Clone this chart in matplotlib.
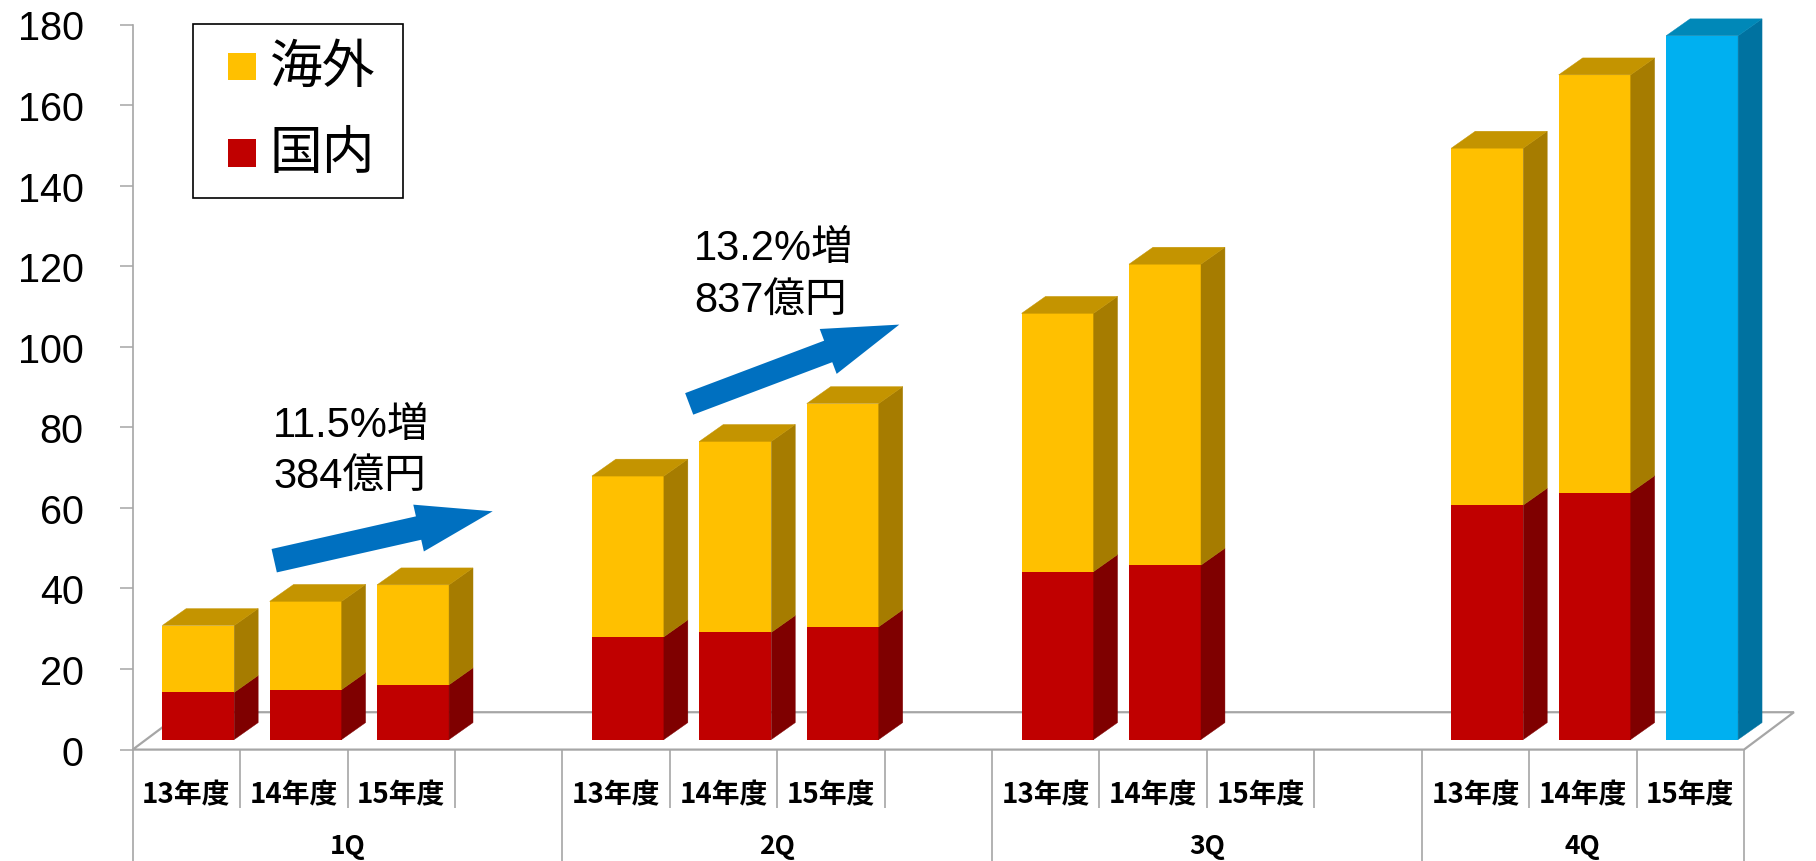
"""Cumulative quarterly sales by fiscal year, domestic vs overseas (Excel-style 3D stacked columns)."""

import matplotlib

matplotlib.use("Agg")  # no display
import matplotlib.pyplot as plt  # noqa: E402
import numpy as np  # noqa: E402
from matplotlib.patches import FancyArrow, Polygon, Rectangle  # noqa: E402
from matplotlib.transforms import blended_transform_factory  # noqa: E402

plt.rcParams["font.family"] = ["Liberation Sans", "Noto Sans CJK JP"]

# --- data (units of 100億円) ---
quarters = ["1Q", "2Q", "3Q", "4Q"]
years = ["13年度", "14年度", "15年度"]
domestic = [
    [11.7, 12.4, 13.6],
    [25.5, 26.6, 28.0],
    [41.7, 43.3, np.nan],
    [58.2, 61.3, np.nan],
]
overseas = [
    [16.6, 21.9, 24.8],
    [39.9, 47.4, 55.4],
    [64.1, 74.7, np.nan],
    [88.6, 103.7, np.nan],
]
forecast_4q_15 = 174.7  # 4Q 15年度, single blue column
yticks = list(range(0, 181, 20))
legend_labels = ["海外", "国内"]
notes = [("11.5%増", "384億円"), ("13.2%増", "837億円")]

# front, side, top shades
YELLOW = ("#FFC000", "#A67C00", "#C49400")
RED = ("#C00000", "#7F0000", "#A00000")
BLUE = ("#00B0F0", "#0072A0", "#0088B8")
GRID = "#A6A6A6"
ARROW = "#0070C0"

# fake-3D geometry (slot units / value units)
BAR_W, BAR_SHIFT = 0.67, 0.11
DX, DY = 0.223, 4.2
FLOOR_DX, FLOOR_DY = 0.465, 9.28
BASE = 2.5

W, H = 1816, 862
n_slots = 4 * len(quarters) - 1  # blank slot after each quarter except the last

fig = plt.figure(figsize=(W / 100, H / 100), dpi=100)
ax = fig.add_axes([132.7 / W, (H - 750.6) / H, (1744 - 132.7) / W, (750.6 - 25.5) / H])
ov = fig.add_axes([0, 0, 1, 1])  # pixel overlay for annotations
ov.set_xlim(0, W)
ov.set_ylim(H, 0)
ov.axis("off")
trans = blended_transform_factory(ax.transData, ov.transData)

ax.set_xlim(0, n_slots)
ax.set_ylim(0, 180)
ax.set_xticks([])
ax.set_yticks(yticks)
for s in ["top", "right", "bottom"]:
    ax.spines[s].set_visible(False)
ax.spines["left"].set_color(GRID)
ax.spines["left"].set_linewidth(1.2)
ax.tick_params(axis="y", length=9.4, width=1.1, color=GRID, pad=26, labelsize=28.5)

# floor
ax.add_patch(Polygon([(0, 0), (n_slots, 0), (n_slots + FLOOR_DX, FLOOR_DY), (FLOOR_DX, FLOOR_DY)],
                     closed=True, fc="white", ec=GRID, lw=1.6, clip_on=False, zorder=1))


def draw_stack(x0, segments, draw_top=True):
    """segments: list of (height, colors) from bottom up."""
    b = BASE
    x1 = x0 + BAR_W
    for h, (front, side, top) in segments:
        t = b + h
        ax.bar(x0, h, width=BAR_W, bottom=b, align="edge", color=front, lw=0, zorder=3)
        ax.add_patch(Polygon([(x1, b), (x1 + DX, b + DY), (x1 + DX, t + DY), (x1, t)],
                             closed=True, fc=side, ec=side, lw=0.3, clip_on=False, zorder=3))
        b = t
    if draw_top:
        top = segments[-1][1][2]
        ax.add_patch(Polygon([(x0, b), (x1, b), (x1 + DX, b + DY), (x0 + DX, b + DY)],
                             closed=True, fc=top, ec=top, lw=0.3, clip_on=False, zorder=3))


for q in range(len(quarters)):
    for y in range(len(years)):
        slot = q * 4 + y
        x0 = slot + 0.5 + BAR_SHIFT - BAR_W / 2
        if not np.isnan(domestic[q][y]):
            draw_stack(x0, [(domestic[q][y], RED), (overseas[q][y], YELLOW)])
        elif q == 3 and y == 2:
            draw_stack(x0, [(forecast_4q_15, BLUE)])

# two-level category axis
for q, name in enumerate(quarters):
    for y, label in enumerate(years):
        ax.text(q * 4 + y + 0.5, 803, label, transform=trans, ha="center", va="baseline",
                fontsize=20, fontweight="bold", family=["Noto Sans CJK JP"])
    start = q * 4
    end = min(start + 4, n_slots)
    ax.text((start + end) / 2, 854, name, transform=trans, ha="center", va="baseline",
            fontsize=19, fontweight="bold", family=["Noto Sans CJK JP"])

group_edges = [0, 4, 8, 12, n_slots]
short = [k for k in range(1, n_slots) if k not in group_edges]
ax.vlines(short, 750.7, 809.3, transform=trans, colors=GRID, lw=1.2, clip_on=False)
ax.vlines(group_edges, 750.7, H, transform=trans, colors=GRID, lw=1.2, clip_on=False)

# legend (drawn by hand to match the boxed Excel legend)
ov.add_patch(Rectangle((192.7, 24.7), 210.6, 174.3, fc="white", ec="black", lw=1.2))
for (label, col), yc in zip(zip(legend_labels, [YELLOW[0], RED[0]]), [67.6, 153.9]):
    ov.add_patch(Rectangle((227.7, yc - 13.8), 28, 27.6, fc=col, lw=0))
    ov.text(270, yc, label, fontsize=38, va="center", ha="left",
            family=["Noto Sans CJK JP"])

# growth annotations with block arrows
for (l1, l2), (tx, b1, b2) in zip(notes, [(273, 437.3, 488.3), (694, 260.3, 312.2)]):
    ov.text(tx, b1, l1, fontsize=30, va="baseline", ha="left")
    ov.text(tx, b2, l2, fontsize=30, va="baseline", ha="left")

for (xs, ys, xe, ye, w) in [(274.2, 561.7, 492.7, 512.3, 24), (689.2, 404.9, 899.3, 325.6, 23)]:
    ov.add_patch(FancyArrow(xs, ys, xe - xs, ye - ys, width=w, head_width=48, head_length=76,
                            length_includes_head=True, color=ARROW, lw=0))

fig.savefig("out.png", dpi=100)
